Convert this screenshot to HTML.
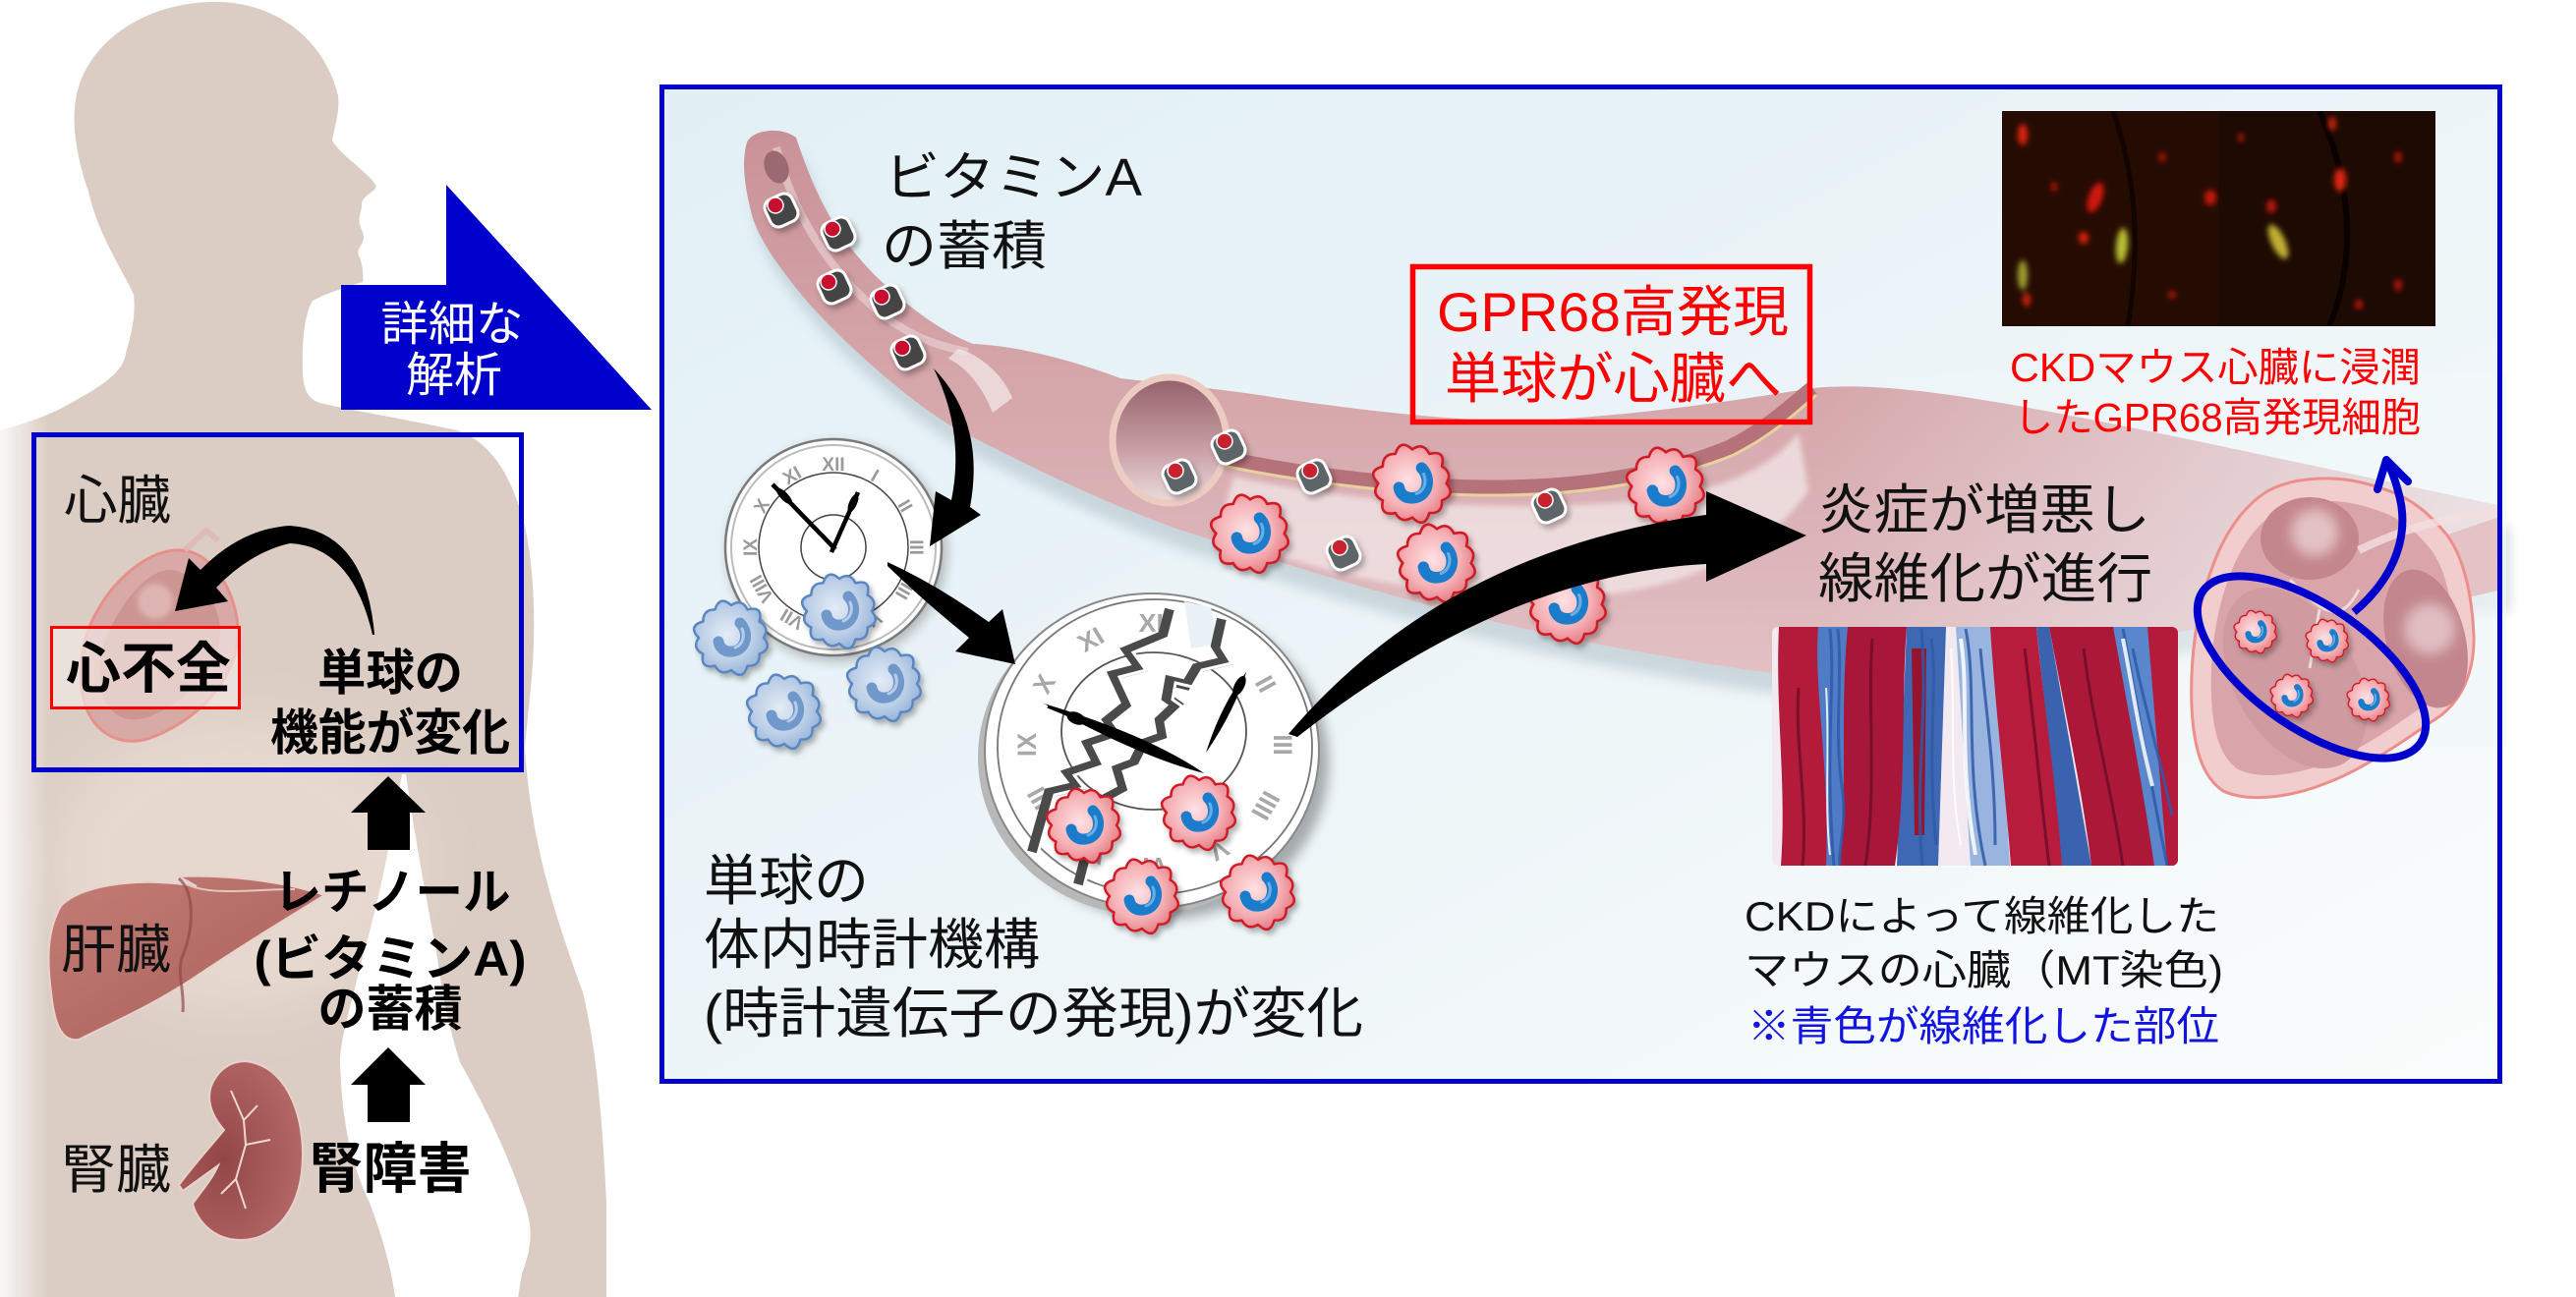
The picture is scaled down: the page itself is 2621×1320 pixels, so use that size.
<!DOCTYPE html>
<html><head><meta charset="utf-8"><style>
html,body{margin:0;padding:0;background:#fff;}
svg{display:block;}
text{font-family:"Liberation Sans","Noto Sans CJK JP",sans-serif;}
.ser{font-family:"Liberation Serif","DejaVu Serif",serif;}
</style></head><body>
<svg xmlns="http://www.w3.org/2000/svg" width="2621" height="1320" viewBox="0 0 2621 1320">
<defs>
<linearGradient id="mainbg" x1="0" y1="0" x2="1" y2="1"><stop offset="0" stop-color="#e2f0f6"/><stop offset="0.55" stop-color="#edf5f8"/><stop offset="1" stop-color="#fbfdfd"/></linearGradient>
<linearGradient id="fadeL" x1="0" x2="1"><stop offset="0" stop-color="#fff" stop-opacity="0.85"/><stop offset="1" stop-color="#fff" stop-opacity="0"/></linearGradient>
<radialGradient id="rcg" cx="0.45" cy="0.45" r="0.6"><stop offset="0" stop-color="#fde2e4"/><stop offset="0.6" stop-color="#f5b0b5"/><stop offset="1" stop-color="#e27880"/></radialGradient>
<radialGradient id="bcg" cx="0.45" cy="0.45" r="0.6"><stop offset="0" stop-color="#e4ecf6"/><stop offset="0.6" stop-color="#bccfe7"/><stop offset="1" stop-color="#93b0d8"/></radialGradient>
<linearGradient id="vessel" x1="0" y1="0" x2="0" y2="1"><stop offset="0" stop-color="#c99298"/><stop offset="0.5" stop-color="#d6a8ac"/><stop offset="1" stop-color="#e2c1c4"/></linearGradient>
<linearGradient id="ringg" x1="0" y1="0" x2="0" y2="1"><stop offset="0" stop-color="#93606a"/><stop offset="0.55" stop-color="#c79ca2"/><stop offset="1" stop-color="#ecdcdd"/></linearGradient>
<linearGradient id="liverg" x1="0" y1="0" x2="1" y2="1"><stop offset="0" stop-color="#c47d75"/><stop offset="1" stop-color="#a85e5b"/></linearGradient>
<radialGradient id="kidg" cx="0.35" cy="0.55" r="0.7"><stop offset="0" stop-color="#934646"/><stop offset="1" stop-color="#b66a68"/></radialGradient>
<linearGradient id="fadeR" x1="0" x2="1"><stop offset="0" stop-color="#f2f8fa" stop-opacity="0"/><stop offset="1" stop-color="#f2f8fa" stop-opacity="0.7"/></linearGradient>
<filter id="blur6" x="-20%" y="-20%" width="140%" height="140%"><feGaussianBlur stdDeviation="6"/></filter>
<filter id="blur3" x="-20%" y="-20%" width="140%" height="140%"><feGaussianBlur stdDeviation="3"/></filter>
<filter id="blur20" x="-50%" y="-50%" width="200%" height="200%"><feGaussianBlur stdDeviation="25"/></filter>
<filter id="ds" x="-30%" y="-30%" width="160%" height="160%"><feDropShadow dx="3" dy="4" stdDeviation="3" flood-color="#000" flood-opacity="0.3"/></filter>
<clipPath id="mtclip"><rect x="1803" y="638" width="413" height="243" rx="6"/></clipPath>
<clipPath id="flclip"><rect x="2037" y="113" width="441" height="219"/></clipPath>
<path id="blob" d="M33,0 Q42.5,11.4 28.6,16.5 Q29.6,29.6 16.5,28.6 Q12,44.7 0,33 Q-10.6,39.3 -16.5,28.6 Q-31.9,31.9 -28.6,16.5 Q-40.4,10.8 -33,0 Q-44.7,-12 -28.6,-16.5 Q-28.8,-28.8 -16.5,-28.6 Q-11.7,-43.6 0,-33 Q10.8,-40.4 16.5,-28.6 Q32.7,-32.7 28.6,-16.5 Q39.3,-10.6 33,0 Z"/>
<g id="rc"><use href="#blob" fill="url(#rcg)" stroke="#d01c28" stroke-width="2.5" stroke-linejoin="round"/><path d="M9,-15 C19,-5 15,13 1,14 C-7,15 -12,10 -13,4" fill="none" stroke="#1f7bcc" stroke-width="11" stroke-linecap="round"/><path d="M11,-9 C14,-2 12,7 4,10" fill="none" stroke="#86c4ee" stroke-width="3" stroke-linecap="round" opacity="0.7"/></g>
<g id="bc"><use href="#blob" fill="url(#bcg)" stroke="#5a86c2" stroke-width="2.5" stroke-linejoin="round"/><path d="M9,-15 C19,-5 15,13 1,14 C-7,15 -12,10 -13,4" fill="none" stroke="#6f98cb" stroke-width="11" stroke-linecap="round"/><path d="M11,-9 C14,-2 12,7 4,10" fill="none" stroke="#c8daf0" stroke-width="3" stroke-linecap="round" opacity="0.8"/></g>
<g id="gc"><rect x="-15" y="-15" width="30" height="30" rx="9" fill="#454545" stroke="#fff" stroke-width="3" transform="rotate(-25)"/><circle cx="-6" cy="-5" r="8" fill="#c8102e" stroke="#fff" stroke-width="1.5"/></g>
<g id="gc2"><rect x="-15" y="-15" width="30" height="30" rx="9" fill="#5d6567" stroke="#fff" stroke-width="3" transform="rotate(-25)"/><circle cx="-4" cy="-6" r="8" fill="#c8202e" stroke="#fff" stroke-width="1.5"/></g>
<path id="vpath" d="M760,145 C765,132 795,128 810,140 C822,175 840,230 891,281 C930,318 960,338 990,350 C1040,352 1100,370 1140,385 C1200,392 1260,398 1300,405 C1400,420 1500,430 1560,428 C1680,422 1780,405 1844,395 C1950,385 2100,420 2546,515 L2546,600 C2300,625 2100,660 1943,698 C1861,692 1780,684 1695,668 C1600,652 1529,636 1450,615 C1363,592 1280,565 1197,538 C1120,510 1056,479 974,437 C930,412 870,360 824,310 C790,270 770,240 764,215 C758,190 754,165 760,145 Z"/>
</defs>

<rect width="2621" height="1320" fill="#fff"/>

<!-- BODY -->
<path d="M0,438 C30,430 55,420 67,413 C100,395 125,380 128,360 C135,335 138,320 136,300 C125,275 100,240 90,195 C78,160 74,130 76,110 C80,50 140,4 214,2 C280,0 330,40 344,97 C346,115 340,130 338,143 C345,155 360,165 370,175 C378,182 384,188 382,192 C375,198 368,202 368,208 C368,216 364,222 366,228 C368,236 372,240 369,246 C366,252 362,256 366,262 C369,270 370,280 369,287 C360,290 335,297 318,306 C310,320 307,345 308,380 C309,395 312,405 325,410 C370,420 420,428 465,438 C500,450 522,485 535,540 C545,590 545,650 540,700 L534,760 C540,860 567,938 593,1010 C605,1060 612,1120 617,1224 L617,1320 L0,1320 Z" fill="#dbcdc4"/>
<ellipse cx="240" cy="880" rx="190" ry="150" fill="#f0e2d8" opacity="0.55" filter="url(#blur20)"/>
<rect x="0" y="420" width="50" height="900" fill="url(#fadeL)"/>
<!-- gap between torso and arm -->
<path d="M409,788 L413,788 C425,870 435,920 445,974 C448,1000 455,1040 468,1081 C490,1120 515,1170 530,1215 C540,1240 545,1260 531,1296 L527,1321 L402,1321 C400,1300 390,1260 376,1224 C360,1190 348,1150 346,1081 C346,1060 355,1030 369,974 C390,900 400,840 409,788 Z" fill="#ffffff"/>

<!-- liver -->
<path d="M62,922 C85,898 150,893 200,902 L182,892 C235,890 292,898 330,911 C300,930 262,952 205,990 C162,1020 112,1042 80,1058 C62,1061 55,1040 52,1010 C48,980 47,948 62,922 Z" fill="url(#liverg)" stroke="#e9d2cc" stroke-width="2"/>
<path d="M182,894 C200,910 196,950 185,975 C180,990 188,1010 186,1030" fill="none" stroke="#8e4a48" stroke-width="3" opacity="0.7"/>
<path d="M190,900 C215,912 255,905 300,905" fill="none" stroke="#e4c6c0" stroke-width="2"/>
<!-- kidney -->
<path d="M250,1080 C290,1085 308,1130 308,1175 C308,1230 280,1262 245,1262 C215,1262 200,1240 196,1225 C205,1212 216,1200 222,1186 L186,1212 L182,1206 C200,1182 215,1166 228,1150 C215,1135 210,1120 215,1105 C222,1088 235,1080 250,1080 Z" fill="url(#kidg)" stroke="#e8d0cc" stroke-width="2"/>
<path d="M235,1110 L248,1140 L262,1125 M248,1140 L250,1165 L275,1160 M250,1165 L240,1200 L250,1230 M240,1200 L225,1215" fill="none" stroke="#eed8d4" stroke-width="2"/>

<!-- left heart -->
<path d="M185,560 C215,562 240,600 242,640 C244,690 200,735 150,752 C120,760 95,745 86,715 C78,685 82,650 100,620 C120,585 155,558 185,560 Z" fill="#d8a6a3" stroke="#e88a86" stroke-width="3" opacity="0.9"/>
<path d="M176,580 C200,585 222,610 224,640 C226,680 190,715 150,730 C125,738 108,725 103,700 C98,675 105,650 120,625 C135,600 156,578 176,580 Z" fill="#c48886" opacity="0.6"/>
<circle cx="158" cy="612" r="18" fill="#ebcaca" opacity="0.6" filter="url(#blur3)"/>
<path d="M188,560 L210,540 L222,550" fill="none" stroke="#e0b6b4" stroke-width="6" opacity="0.8"/>

<!-- left box -->
<rect x="34.5" y="442.5" width="496" height="341" fill="none" stroke="#0000cc" stroke-width="5"/>
<rect x="52.5" y="638.5" width="191" height="82" fill="#f3ebe8" fill-opacity="0.65" stroke="#ff0000" stroke-width="3"/>
<path d="M381,646 Q372,540 295,535 Q245,538 204,580 L192,568 L178,622 L232,612 L220,598 Q255,562 295,553 Q358,556 379,646 Z" fill="#000"/>
<text x="65" y="528" font-size="54" fill="#111" textLength="109" lengthAdjust="spacingAndGlyphs">心臓</text>
<text x="67" y="700" font-size="56" font-weight="bold" fill="#000" textLength="168" lengthAdjust="spacingAndGlyphs">心不全</text>
<text x="397" y="702" font-size="50" font-weight="bold" fill="#000" text-anchor="middle" textLength="148" lengthAdjust="spacingAndGlyphs">単球の</text>
<text x="397" y="763" font-size="50" font-weight="bold" fill="#000" text-anchor="middle" textLength="244" lengthAdjust="spacingAndGlyphs">機能が変化</text>
<polygon points="395,790 433,827 417,827 417,865 374,865 374,827 357,827" fill="#000"/>
<polygon points="395,1066 433,1104 417,1104 417,1142 374,1142 374,1104 357,1104" fill="#000"/>
<text x="399" y="925" font-size="50" font-weight="bold" fill="#000" text-anchor="middle" textLength="241" lengthAdjust="spacingAndGlyphs">レチノール</text>
<text x="397" y="993" font-size="50" font-weight="bold" fill="#000" text-anchor="middle" textLength="277" lengthAdjust="spacingAndGlyphs">(ビタミンA)</text>
<text x="397" y="1044" font-size="50" font-weight="bold" fill="#000" text-anchor="middle" textLength="147" lengthAdjust="spacingAndGlyphs">の蓄積</text>
<text x="397" y="1209" font-size="56" font-weight="bold" fill="#000" text-anchor="middle" textLength="165" lengthAdjust="spacingAndGlyphs">腎障害</text>
<text x="62" y="985" font-size="54" fill="#111" textLength="112" lengthAdjust="spacingAndGlyphs">肝臓</text>
<text x="62" y="1209" font-size="54" fill="#111" textLength="112" lengthAdjust="spacingAndGlyphs">腎臓</text>

<!-- blue arrow -->
<polygon points="454,188 663,417 347,417 347,290 454,290" fill="#0000cc"/>
<text x="460" y="346" font-size="48" fill="#fff" text-anchor="middle" textLength="145" lengthAdjust="spacingAndGlyphs">詳細な</text>
<text x="462" y="398" font-size="48" fill="#fff" text-anchor="middle" textLength="98" lengthAdjust="spacingAndGlyphs">解析</text>

<!-- MAIN BOX -->
<rect x="673.5" y="88.5" width="1870" height="1012" fill="url(#mainbg)"/>

<!-- vessel -->
<use href="#vpath" fill="#8ea0aa" opacity="0.35" transform="translate(8,22)" filter="url(#blur6)"/>
<use href="#vpath" fill="url(#vessel)"/>
<path d="M790,150 C805,210 835,262 880,305 C915,338 950,352 985,358" fill="none" stroke="#e8cdd0" stroke-width="8" opacity="0.7"/>
<ellipse cx="790" cy="170" rx="12" ry="17" fill="#9a6a70" transform="rotate(-20 790 170)"/>
<path d="M975,355 C995,360 1020,380 1030,405 L1010,420 C1000,395 985,375 965,365 Z" fill="#f0e2e3" opacity="0.8"/>
<path d="M1255,485 C1380,512 1520,520 1640,512 C1740,505 1800,480 1830,440 L1840,500 C1790,570 1690,610 1570,608 C1440,606 1320,580 1240,540 Z" fill="#f3e7e8" opacity="0.75" filter="url(#blur3)"/>
<path d="M1245,466 C1330,484 1440,497 1529,496 C1620,495 1700,480 1760,455 C1800,435 1825,410 1844,395" fill="none" stroke="#b5727a" stroke-width="15"/>
<path d="M1245,474 C1330,492 1440,505 1529,504 C1620,503 1702,488 1764,463 C1805,442 1830,418 1848,402" fill="none" stroke="#ead09e" stroke-width="3"/>
<ellipse cx="1190" cy="448" rx="58" ry="64" fill="url(#ringg)" stroke="#ecccc2" stroke-width="7"/>
<rect x="1850" y="380" width="700" height="380" fill="url(#fadeR)"/>

<!-- red box -->
<rect x="1437.5" y="271.5" width="404" height="158" fill="none" stroke="#ff0000" stroke-width="5.5"/>
<text x="1462" y="337" font-size="56" fill="#ff0000" textLength="358" lengthAdjust="spacingAndGlyphs">GPR68高発現</text>
<text x="1470" y="405" font-size="56" fill="#ff0000" textLength="343" lengthAdjust="spacingAndGlyphs">単球が心臓へ</text>

<!-- fluorescence image -->
<g clip-path="url(#flclip)">
<rect x="2037" y="113" width="441" height="219" fill="#1d0a03"/>
<rect x="2037" y="113" width="220" height="219" fill="#2c0d02" opacity="0.6"/>
<path d="M2360,113 C2390,180 2400,260 2370,332" fill="none" stroke="#0a0200" stroke-width="6"/>
<path d="M2150,113 C2170,170 2180,240 2165,332" fill="none" stroke="#120400" stroke-width="5"/>
<g filter="url(#blur3)">
<ellipse cx="2058" cy="137" rx="5" ry="11" fill="#e02010"/>
<ellipse cx="2132" cy="201" rx="7" ry="16" fill="#d01808" transform="rotate(20 2132 201)"/>
<ellipse cx="2249" cy="201" rx="6" ry="8" fill="#c81808"/>
<ellipse cx="2381" cy="183" rx="6" ry="12" fill="#e02810"/>
<ellipse cx="2373" cy="126" rx="4" ry="7" fill="#d02010"/>
<ellipse cx="2311" cy="210" rx="5" ry="7" fill="#b81808"/>
<ellipse cx="2120" cy="242" rx="5" ry="6" fill="#e02010"/>
<ellipse cx="2159" cy="250" rx="6" ry="18" fill="#b8c030" transform="rotate(5 2159 250)"/>
<ellipse cx="2318" cy="246" rx="7" ry="19" fill="#c0b030" transform="rotate(-25 2318 246)"/>
<ellipse cx="2058" cy="280" rx="5" ry="15" fill="#a0a030"/>
<ellipse cx="2062" cy="305" rx="4" ry="7" fill="#d02010"/>
<ellipse cx="2440" cy="290" rx="4" ry="6" fill="#b01808"/>
<ellipse cx="2400" cy="310" rx="4" ry="5" fill="#c01808"/>
<ellipse cx="2200" cy="160" rx="4" ry="5" fill="#a01808"/>
<ellipse cx="2280" cy="140" rx="3" ry="5" fill="#b01808"/>
<ellipse cx="2440" cy="160" rx="4" ry="6" fill="#a81808"/>
<ellipse cx="2210" cy="300" rx="4" ry="4" fill="#b01808"/>
<ellipse cx="2090" cy="190" rx="3" ry="5" fill="#c01808"/>
</g>
</g>
<text x="2045" y="388" font-size="41" fill="#ff0000" textLength="418" lengthAdjust="spacingAndGlyphs">CKDマウス心臓に浸潤</text>
<text x="2049" y="439" font-size="41" fill="#ff0000" textLength="414" lengthAdjust="spacingAndGlyphs">したGPR68高発現細胞</text>

<!-- CLOCK 1 -->
<circle cx="852" cy="562" r="111" fill="#000" opacity="0.25" filter="url(#blur6)"/>
<circle cx="848" cy="557" r="110" fill="#fff" stroke="#7a7a7a" stroke-width="2.5"/>
<circle cx="848" cy="557" r="104" fill="none" stroke="#bbb" stroke-width="2"/>
<circle cx="848" cy="557" r="76" fill="none" stroke="#444" stroke-width="1.5"/>
<circle cx="848" cy="557" r="33" fill="none" stroke="#444" stroke-width="1.5"/>
<g class="ser" font-size="19" fill="#9a9a9a" text-anchor="middle" font-weight="bold">
<text transform="translate(848,557) rotate(0) translate(0,-84)" y="6">XII</text>
<text transform="translate(848,557) rotate(30) translate(0,-84)" y="6">I</text>
<text transform="translate(848,557) rotate(60) translate(0,-84)" y="6">II</text>
<text transform="translate(848,557) rotate(90) translate(0,-84)" y="6">III</text>
<text transform="translate(848,557) rotate(120) translate(0,-84)" y="6">IIII</text>
<text transform="translate(848,557) rotate(150) translate(0,-84)" y="6">V</text>
<text transform="translate(848,557) rotate(180) translate(0,-84)" y="6">VI</text>
<text transform="translate(848,557) rotate(210) translate(0,-84)" y="6">VII</text>
<text transform="translate(848,557) rotate(240) translate(0,-84)" y="6">VIII</text>
<text transform="translate(848,557) rotate(270) translate(0,-84)" y="6">IX</text>
<text transform="translate(848,557) rotate(300) translate(0,-84)" y="6">X</text>
<text transform="translate(848,557) rotate(330) translate(0,-84)" y="6">XI</text>
</g>
<line x1="850" y1="559" x2="786" y2="493" stroke="#000" stroke-width="4.5"/>
<ellipse cx="798" cy="505" rx="11" ry="4" fill="#000" transform="rotate(46 798 505)"/>
<line x1="846" y1="562" x2="873" y2="501" stroke="#000" stroke-width="4.5"/>
<ellipse cx="868" cy="512" rx="10" ry="4" fill="#000" transform="rotate(-66 868 512)"/>

<!-- CLOCK 2 -->
<ellipse cx="1182" cy="776" rx="170" ry="160" fill="#000" opacity="0.3" filter="url(#blur6)"/>
<ellipse cx="1165" cy="771" rx="170" ry="160" fill="#b8b8b8"/>
<ellipse cx="1172" cy="764" rx="170" ry="160" fill="#fff" stroke="#888" stroke-width="2"/>
<ellipse cx="1175" cy="760" rx="160" ry="150" fill="none" stroke="#777" stroke-width="1.8"/>
<ellipse cx="1174" cy="744" rx="94" ry="80" fill="none" stroke="#555" stroke-width="1.8"/>
<g class="ser" font-size="27" fill="#a8a8a8" text-anchor="middle" font-weight="bold">
<text transform="translate(1175,758) scale(1,0.95) rotate(0) translate(0,-130)" y="9">XII</text>
<text transform="translate(1175,758) scale(1,0.95) rotate(30) translate(0,-130)" y="9">I</text>
<text transform="translate(1175,758) scale(1,0.95) rotate(60) translate(0,-130)" y="9">II</text>
<text transform="translate(1175,758) scale(1,0.95) rotate(90) translate(0,-130)" y="9">III</text>
<text transform="translate(1175,758) scale(1,0.95) rotate(120) translate(0,-130)" y="9">IIII</text>
<text transform="translate(1175,758) scale(1,0.95) rotate(150) translate(0,-130)" y="9">V</text>
<text transform="translate(1175,758) scale(1,0.95) rotate(180) translate(0,-130)" y="9">VI</text>
<text transform="translate(1175,758) scale(1,0.95) rotate(210) translate(0,-130)" y="9">VII</text>
<text transform="translate(1175,758) scale(1,0.95) rotate(240) translate(0,-130)" y="9">VIII</text>
<text transform="translate(1175,758) scale(1,0.95) rotate(270) translate(0,-130)" y="9">IX</text>
<text transform="translate(1175,758) scale(1,0.95) rotate(300) translate(0,-130)" y="9">X</text>
<text transform="translate(1175,758) scale(1,0.95) rotate(330) translate(0,-130)" y="9">XI</text>
</g>
<polygon points="1205,612 1232,618 1240,655 1212,660" fill="#e9f2f6"/>
<polyline points="1190,620 1183,647 1147,662 1160,680 1133,687 1147,717 1127,733 1137,747 1107,757 1117,777 1087,787 1097,800 1067,807 1050,867" fill="none" stroke="#4a4a4a" stroke-width="10" stroke-linejoin="miter"/>
<polyline points="1243,630 1237,657 1247,673 1217,680 1207,697 1190,693 1187,710 1197,717 1180,733 1183,750 1163,757 1153,777 1137,783 1143,803 1117,817 1103,877 1097,900" fill="none" stroke="#4a4a4a" stroke-width="10" stroke-linejoin="miter"/>
<polyline points="1196,622 1189,649 1153,664 1166,682 1139,689 1153,719 1133,735 1143,749 1113,759 1123,779 1093,789 1103,802 1073,809 1056,869" fill="none" stroke="#fff" stroke-width="3"/>
<polyline points="1249,632 1243,659 1253,675 1223,682 1213,699 1196,695 1193,712 1203,719 1186,735 1189,752 1169,759 1159,779 1143,785 1149,805 1123,819 1109,879 1103,902" fill="none" stroke="#fff" stroke-width="3"/>
<line x1="1066" y1="719" x2="1090" y2="729" stroke="#000" stroke-width="3"/>
<ellipse cx="1095" cy="731" rx="10" ry="6" fill="#000" transform="rotate(23 1095 731)"/>
<path d="M0,0 Q110,-13 178,0 Q110,11 0,0 Z" fill="#000" transform="translate(1062,716) rotate(23.5)"/>
<path d="M0,0 Q50,-8 92,0 Q50,7 0,0 Z" fill="#000" transform="translate(1227,766) rotate(-63.4)"/>
<ellipse cx="1261" cy="698" rx="11" ry="5" fill="#000" transform="rotate(-63 1261 698)"/>

<!-- cells -->
<g filter="url(#ds)">
<use href="#gc" x="795" y="214"/>
<use href="#gc" x="853" y="238"/>
<use href="#gc" x="849" y="292"/>
<use href="#gc" x="903" y="307"/>
<use href="#gc" x="924" y="359"/>
<use href="#gc2" x="1250" y="455"/>
<use href="#gc2" x="1200" y="485"/>
<use href="#gc2" x="1337" y="485"/>
<use href="#gc2" x="1367" y="563"/>
<use href="#gc2" x="1576" y="515"/>
<use href="#rc" transform="translate(1437,492) scale(1.05)"/>
<use href="#rc" transform="translate(1272,543) scale(1.05)"/>
<use href="#rc" transform="translate(1462,573) scale(1.05)"/>
<use href="#rc" transform="translate(1695,495) scale(1.05)"/>
<use href="#rc" transform="translate(1595,615) scale(1.05)"/>
<use href="#rc" transform="translate(1103,840)"/>
<use href="#rc" transform="translate(1220,827)"/>
<use href="#rc" transform="translate(1162,912)"/>
<use href="#rc" transform="translate(1280,908)"/>
<use href="#bc" transform="translate(744,649)"/>
<use href="#bc" transform="translate(854,622)"/>
<use href="#bc" transform="translate(900,696)"/>
<use href="#bc" transform="translate(798,724)"/>
</g>

<!-- black arrows -->
<path d="M950,375 Q1003,430 987,516 L998,524 L946,556 L952,500 L968,509 Q982,440 950,375 Z" fill="#000"/>
<path d="M903,572 Q955,596 1006,633 L1020,620 L1033,676 L972,663 L986,649 Q940,612 903,576 Z" fill="#000"/>
<path d="M1311,747 Q1470,560 1736,524 L1736,500 L1838,545 L1736,592 L1736,574 Q1530,585 1320,750 Z" fill="#000"/>

<!-- main texts -->
<text x="900" y="199" font-size="54" fill="#111" textLength="262" lengthAdjust="spacingAndGlyphs">ビタミンA</text>
<text x="897" y="269" font-size="54" fill="#111" textLength="168" lengthAdjust="spacingAndGlyphs">の蓄積</text>
<text x="1850" y="538" font-size="55" fill="#111" textLength="338" lengthAdjust="spacingAndGlyphs">炎症が増悪し</text>
<text x="1850" y="608" font-size="55" fill="#111" textLength="340" lengthAdjust="spacingAndGlyphs">線維化が進行</text>
<text x="716" y="916" font-size="56" fill="#111" textLength="168" lengthAdjust="spacingAndGlyphs">単球の</text>
<text x="716" y="981" font-size="56" fill="#111" textLength="342" lengthAdjust="spacingAndGlyphs">体内時計機構</text>
<text x="716" y="1051" font-size="56" fill="#111" textLength="671" lengthAdjust="spacingAndGlyphs">(時計遺伝子の発現)が変化</text>

<!-- MT image -->
<g clip-path="url(#mtclip)">
<rect x="1803" y="638" width="413" height="243" fill="#f2eaf0"/>
<polygon points="1848,638 1882,638 1876,881 1852,881" fill="#4f7cc4"/>
<polygon points="1940,638 1980,638 1972,881 1930,881" fill="#3f68b4"/>
<polygon points="1990,638 2030,638 2045,881 2005,881" fill="#9ab4e0"/>
<polygon points="2072,638 2085,638 2128,881 2098,881" fill="#3a62ae"/>
<polygon points="2148,638 2185,638 2216,800 2216,881 2192,881" fill="#5a86cc"/>
<path d="M1810,638 L1850,638 C1845,700 1862,780 1858,881 L1812,881 C1818,800 1806,720 1810,638 Z" fill="#b41a3a"/>
<path d="M1880,638 L1940,638 C1934,720 1940,800 1928,881 L1872,881 C1880,800 1872,720 1880,638 Z" fill="#a8163a"/>
<path d="M2025,638 L2072,638 C2080,720 2092,800 2098,881 L2046,881 C2040,800 2030,720 2025,638 Z" fill="#b81c3c"/>
<path d="M2085,638 L2150,638 C2165,720 2180,800 2192,881 L2128,881 C2118,800 2100,720 2085,638 Z" fill="#ac1838"/>
<polygon points="2185,638 2216,638 2216,881 2205,881" fill="#b41a3a"/>
<polygon points="1945,660 1960,660 1958,850 1948,850" fill="#951530"/>
<g fill="none" stroke="#2f5aa8" stroke-width="3" opacity="0.85">
<path d="M1862,640 C1868,700 1856,760 1866,881"/>
<path d="M1870,640 C1875,690 1866,740 1874,800 C1880,840 1870,860 1872,881"/>
<path d="M1955,640 C1962,720 1948,800 1956,881"/>
<path d="M1965,650 C1972,700 1960,760 1970,860"/>
<path d="M2000,640 C2012,700 1998,780 2020,881"/>
<path d="M2015,660 C2020,720 2030,780 2030,860"/>
<path d="M2160,640 C2175,720 2185,780 2205,881"/>
<path d="M2170,660 C2182,720 2195,760 2210,830"/>
</g>
<g fill="none" stroke="#6a0c28" stroke-width="3" opacity="0.8">
<path d="M1830,700 C1826,760 1840,820 1834,881"/>
<path d="M1905,650 C1900,720 1910,800 1898,881"/>
<path d="M2060,660 C2070,740 2075,800 2085,881"/>
<path d="M2120,660 C2130,740 2148,800 2160,881"/>
</g>
<g fill="none" stroke="#ffffff" stroke-width="4" opacity="0.85">
<path d="M1995,650 C2004,710 1992,770 2010,870"/>
<path d="M2160,650 C2170,700 2175,740 2190,800"/>
<path d="M1858,700 C1862,760 1856,820 1862,870" stroke-width="2"/>
<path d="M1985,660 C1990,720 1982,790 1995,860" stroke-width="2"/>
</g>
</g>
<text x="1775" y="947" font-size="42" fill="#111" textLength="483" lengthAdjust="spacingAndGlyphs">CKDによって線維化した</text>
<text x="1775" y="1002" font-size="42" fill="#111" textLength="487" lengthAdjust="spacingAndGlyphs">マウスの心臓（MT染色)</text>
<text x="1778" y="1059" font-size="42" fill="#1414e0" textLength="480" lengthAdjust="spacingAndGlyphs">※青色が線維化した部位</text>

<!-- right heart -->
<path d="M2400,575 L2546,525 L2546,600 L2440,625 Z" fill="#e4bcbe" opacity="0.85"/>
<path d="M2307,500 C2330,487 2375,480 2423,497 C2450,505 2470,520 2490,545 C2505,565 2515,600 2517,647 C2518,690 2500,720 2473,735 C2445,755 2400,785 2367,797 C2335,810 2290,818 2262,805 C2240,790 2232,760 2230,720 C2228,670 2235,620 2250,580 C2262,545 2282,515 2307,500 Z" fill="#f2cdcd" stroke="#ec8e8c" stroke-width="3"/>
<path d="M2307,500 C2330,487 2375,480 2423,497 C2450,505 2470,520 2490,545 C2505,565 2515,600 2517,647 C2518,690 2500,720 2473,735 C2445,755 2400,785 2367,797 C2335,810 2290,818 2262,805 C2240,790 2232,760 2230,720 C2228,670 2235,620 2250,580 C2262,545 2282,515 2307,500 Z" fill="#daa5aa" transform="translate(2373,650) scale(0.86) translate(-2373,-650)"/>
<ellipse cx="2350" cy="548" rx="50" ry="42" fill="#c4868d"/>
<circle cx="2355" cy="542" r="24" fill="#ead0d2" opacity="0.8" filter="url(#blur6)"/>
<ellipse cx="2335" cy="690" rx="62" ry="100" fill="#cf9ba1" transform="rotate(-30 2335 690)"/>
<ellipse cx="2468" cy="650" rx="40" ry="72" fill="#c3868f" transform="rotate(-15 2468 650)"/>
<circle cx="2472" cy="640" r="26" fill="#ead0d2" opacity="0.75" filter="url(#blur6)"/>
<path d="M2400,560 C2440,540 2490,525 2546,520" fill="none" stroke="#f4dede" stroke-width="8" opacity="0.8"/>
<path d="M2330,590 C2360,620 2380,640 2400,600 M2360,620 L2350,680" fill="none" stroke="#f0dadb" stroke-width="3"/>
<g filter="url(#ds)">
<use href="#rc" transform="translate(2295,643) scale(0.58)"/>
<use href="#rc" transform="translate(2368,652) scale(0.58)"/>
<use href="#rc" transform="translate(2332,708) scale(0.58)"/>
<use href="#rc" transform="translate(2410,712) scale(0.58)"/>
</g>
<ellipse cx="2352" cy="679" rx="135" ry="62" fill="none" stroke="#0000cc" stroke-width="8" transform="rotate(35 2352 679)"/>
<path d="M2395,623 C2440,585 2452,540 2440,500 C2436,485 2432,475 2428,470" fill="none" stroke="#0000cc" stroke-width="8"/>
<polyline points="2419,498 2428,468 2450,490" fill="none" stroke="#0000cc" stroke-width="8" stroke-linecap="round" stroke-linejoin="round"/>

<!-- main box border -->
<rect x="673.5" y="88.5" width="1870" height="1012" fill="none" stroke="#0000cc" stroke-width="5"/>
</svg>
</body></html>
